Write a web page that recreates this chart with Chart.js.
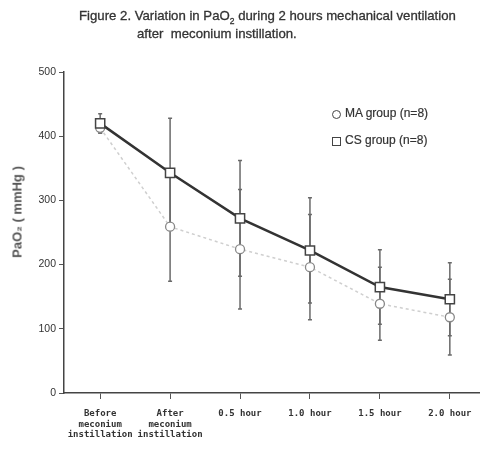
<!DOCTYPE html>
<html>
<head>
<meta charset="utf-8">
<script src="https://cdn.jsdelivr.net/npm/chart.js@4.4.1/dist/chart.umd.min.js"></script>
<style>
  body{margin:0;background:#fff;overflow:hidden;}
  #wrap{position:relative;width:480px;height:452px;overflow:hidden;}
  #title{position:absolute;left:0;top:0;font-family:"Liberation Sans",sans-serif;font-size:13.2px;color:#333;-webkit-text-stroke:0.3px #333;}
  #title div{position:absolute;white-space:nowrap;}
  #ytitle{position:absolute;left:17px;top:212px;transform:translate(-50%,-50%) rotate(-90deg);font-family:"Liberation Sans",sans-serif;font-size:13px;font-weight:bold;color:#555;white-space:nowrap;}
  .leg{position:absolute;font-family:"Liberation Sans",sans-serif;font-size:12px;color:#333;white-space:nowrap;-webkit-text-stroke:0.2px #333;}
  .mk{position:absolute;box-sizing:border-box;border:1.8px solid #444;background:#fff;width:9px;height:9px;}
</style>
</head>
<body>
<div id="wrap">
  <canvas id="myChart" width="490" height="452"></canvas>
  <div id="title">
    <div style="left:79px;top:8px">Figure 2. Variation in PaO<sub style="font-size:8.5px">2</sub> during 2 hours mechanical ventilation</div>
    <div style="left:137px;top:26px">after&nbsp; meconium instillation.</div>
  </div>
  <div id="ytitle">PaO₂ ( mmHg )</div>
  <div class="mk" style="left:332px;top:110px;border-radius:50%"></div>
  <div class="leg" style="left:345px;top:106px">MA group (n=8)</div>
  <div class="mk" style="left:332px;top:137px"></div>
  <div class="leg" style="left:345px;top:133px">CS group (n=8)</div>
</div>
<script>
// values
const labels = [["Before","meconium","instillation"],["After","meconium","instillation"],"0.5 hour","1.0 hour","1.5 hour","2.0 hour"]
const csMean = [420, 343, 272, 222, 165, 146]
const csSD   = [15, 85, 90, 82, 58, 57]
const maMean = [413, 259, 224, 196, 139, 118]
const maSD   = [8, 85, 93, 82, 57, 59]
const yTicks = [0, 100, 200, 300, 400, 500]

// error bars drawn under the points
const errorBars = {
  id: 'errorBars',
  beforeDatasetsDraw(chart){
    const ctx = chart.ctx
    const x = chart.scales.x, y = chart.scales.y
    ctx.save()
    ctx.strokeStyle = '#6a6a6a'
    ctx.lineWidth = 1.5
    chart.data.datasets.forEach(ds=>{
      ds.data.forEach((p,i)=>{
        const px = x.getPixelForValue(p.x)
        const top = y.getPixelForValue(p.y + ds.sd[i])
        const bot = y.getPixelForValue(p.y - ds.sd[i])
        ctx.beginPath()
        ctx.moveTo(px, top); ctx.lineTo(px, bot)
        ctx.moveTo(px-2, top); ctx.lineTo(px+2, top)
        ctx.moveTo(px-2, bot); ctx.lineTo(px+2, bot)
        ctx.stroke()
      })
    })
    ctx.restore()
  }
}

const pts = arr => arr.map((v,i)=>({x:i, y:v}))

new Chart(document.getElementById('myChart'), {
  type: 'line',
  data: {
    datasets: [{
      label: 'CS group (n=8)',
      data: pts(csMean),
      sd: csSD,
      borderColor: '#333',
      borderWidth: 2.5,
      pointStyle: 'rect',
      pointRadius: 6.5,
      pointBorderWidth: 1.5,
      pointBorderColor: '#444',
      pointBackgroundColor: '#fff',
      tension: 0
    },{
      label: 'MA group (n=8)',
      data: pts(maMean),
      sd: maSD,
      borderColor: '#cfcfcf',
      borderWidth: 1.5,
      borderDash: [3,3],
      pointStyle: 'circle',
      pointRadius: 4.5,
      pointBorderWidth: 1.3,
      pointBorderColor: '#888',
      pointBackgroundColor: '#fff',
      tension: 0
    }]
  },
  options: {
    responsive: false,
    animation: false,
    events: [],
    layout: { padding: { top: 72, left: 0, right: 0, bottom: 0 } },
    plugins: { legend: { display: false }, tooltip: { enabled: false } },
    scales: {
      x: {
        type: 'linear',
        min: -0.517, max: 5.46,
        afterFit(s){ s.height = 59 },
        afterBuildTicks(s){ s.ticks = labels.map((l,i)=>({value:i})) },
        grid: { drawOnChartArea: false, drawTicks: true, tickLength: 6, color: '#555' },
        border: { color: '#444', width: 1.5 },
        ticks: {
          color: '#333', font: { family: 'DejaVu Sans Mono', size: 9, weight: 'bold' }, padding: 9,
          maxRotation: 0, autoSkip: false,
          callback: v => labels[v]
        }
      },
      y: {
        min: 0, max: 500,
        afterFit(s){ s.width = 64 },
        afterBuildTicks(s){ s.ticks = yTicks.map(v=>({value:v})) },
        grid: { drawOnChartArea: false, drawTicks: true, tickLength: 5, color: '#555' },
        border: { color: '#444', width: 1.5 },
        ticks: { color: '#333', font: { family: 'Liberation Sans', size: 10.5 }, padding: 3 }
      }
    }
  },
  plugins: [errorBars]
});
</script>
</body>
</html>
